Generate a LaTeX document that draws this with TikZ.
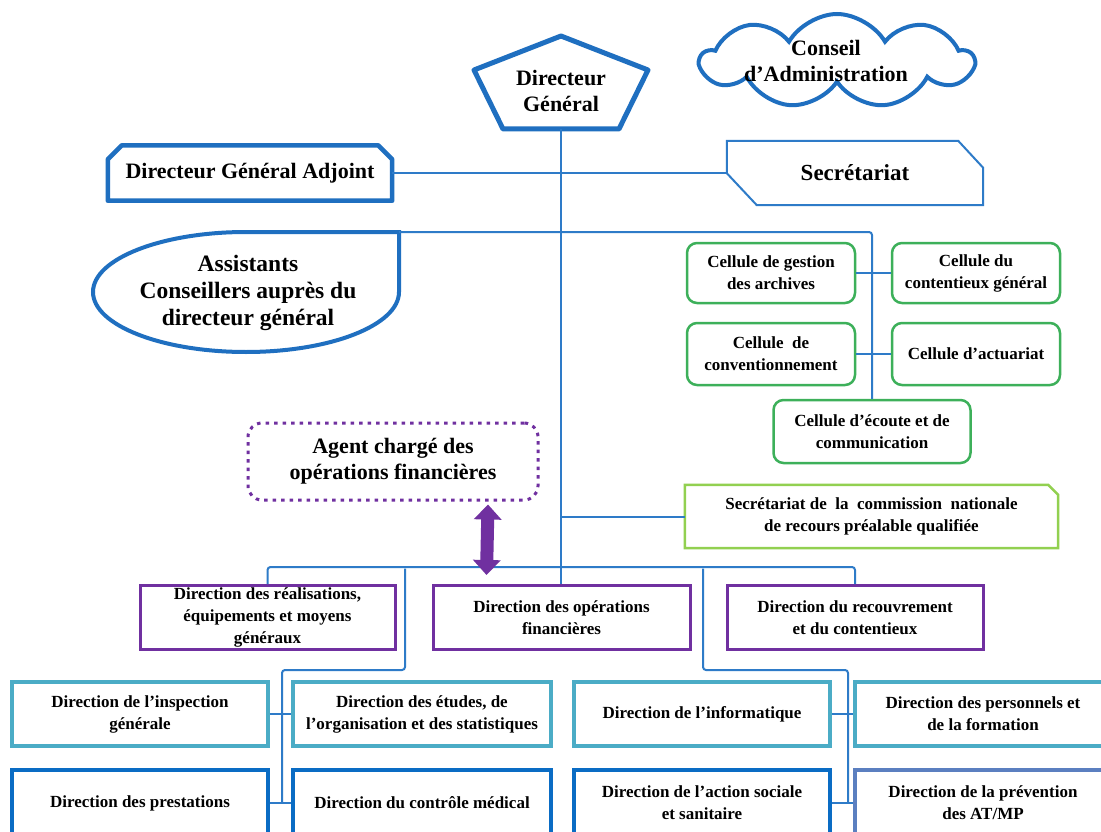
\documentclass[tikz,border=0pt]{standalone}
\usepackage{fontspec}
\setmainfont{Liberation Serif}
\usetikzlibrary{shapes.symbols,arrows.meta,calc}
\definecolor{lblue}{HTML}{2E7BC8}
\definecolor{dblue}{HTML}{1F6FC0}
\definecolor{purp}{HTML}{7030A0}
\definecolor{cgreen}{HTML}{3DB05A}
\definecolor{lgreen}{HTML}{92D050}
\definecolor{tealb}{HTML}{4BACC6}
\definecolor{rowblue}{HTML}{0A6CC4}
\definecolor{slate}{HTML}{5B7FC0}
\begin{document}
\begin{tikzpicture}[x=1pt,y=-1pt,
  conn/.style={draw=lblue,line width=2pt},
  big/.style={font=\fontsize{22}{26}\selectfont\bfseries, align=center},
  small/.style={font=\fontsize{17}{22}\selectfont\bfseries, align=center},
  dirbox/.style={small, draw, minimum width=256pt, minimum height=64pt, inner sep=0pt},
  cell/.style={small, draw=cgreen, line width=2.5pt, rounded corners=10pt, minimum width=168pt, minimum height=60pt, inner sep=0pt},
  pbox/.style={dirbox, draw=purp, line width=3pt},
  tbox/.style={dirbox, draw=tealb, line width=3.5pt},
  bbox/.style={dirbox, draw=rowblue, line width=4pt, minimum height=66pt},
]
\useasboundingbox (0,0) rectangle (1101,832);
\clip (0,0) rectangle (1101,832);
\fill[white] (0,0) rectangle (1101,832);

% Directeur General (pentagon)
\node[big, inner sep=0pt] (dg) at (561,91) {Directeur\\Général};
\draw[dblue, line width=5pt, line join=round] (561,36) -- (648,70) -- (619,129) -- (503,129) -- (474,70) -- cycle;
\coordinate (dgb) at (561,129);

% Conseil d'Administration (cloud)
\node[cloud, draw=dblue, line width=4pt, cloud puffs=9, cloud puff arc=120, aspect=3, minimum width=272pt, minimum height=94pt, inner sep=0pt] (cloud) at (837,61) {};
\node[big, inner sep=0pt] (ca) at (826,61) {Conseil\\d'Administration};

% DGA
\node[big, minimum width=284pt, minimum height=55pt, inner sep=0pt] (dga) at (250,173) {Directeur Général Adjoint};
\draw[dblue, line width=4.5pt, line join=round] ($(dga.north west)+(0,14)$) -- ($(dga.north west)+(14,0)$) -- ($(dga.north east)+(-14,0)$) -- ($(dga.north east)+(0,14)$) -- (dga.south east) -- (dga.south west) -- cycle;

% Secretariat
\node[big, font=\fontsize{23}{26}\selectfont\bfseries, minimum width=256pt, minimum height=64pt, inner sep=0pt] (sec) at (855,173) {Secrétariat};
\draw[lblue, line width=2pt] (sec.north west) -- ($(sec.north east)+(-25,0)$) -- ($(sec.north east)+(0,27)$) -- (sec.south east) -- ($(sec.south west)+(30,0)$) -- ($(sec.south west)+(0,-32)$) -- cycle;
\draw[conn] (dga.east) -- (sec.west);

% Assistants
\node[big, font=\fontsize{23.5}{27}\selectfont\bfseries, inner sep=0pt] (asst) at (248,293) {Assistants\\Conseillers auprès du\\directeur général};
\draw[dblue, line width=4pt] (399,232) -- (399,292) arc[start angle=0, end angle=-270, x radius=153pt, y radius=60pt] -- cycle;
\coordinate (asstc) at (399,232);

% Cellules
\node[cell] (gest) at (771,273) {Cellule de gestion\\des archives};
\node[cell] (cont) at (976,273) {Cellule du\\contentieux général};
\node[cell, minimum height=62pt] (conv) at (771,354) {Cellule~~de\\conventionnement};
\node[cell, minimum height=62pt] (actu) at (976,354) {Cellule d'actuariat};
\node[cell, minimum width=197pt, minimum height=63pt] (ecou) at (872,431.5) {Cellule d'écoute et de\\communication};
\draw[conn, rounded corners=3pt] (asstc) -- (872,232) -- (ecou.north);
\draw[conn] (gest.east) -- (cont.west);
\draw[conn] (conv.east) -- (actu.west);

% Agent
\node[big, draw=purp, line width=3pt, dash pattern=on 3.5pt off 5pt, rounded corners=14pt, minimum width=290pt, minimum height=77pt, inner sep=0pt] (agent) at (393,461.5) {Agent chargé des\\opérations financières};

% Commission
\node[small, minimum width=373pt, minimum height=63pt, inner sep=0pt] (comm) at (871.5,516.5) {Secrétariat de~~la~~commission~~nationale\\de recours préalable qualifiée};
\draw[lgreen, line width=2.5pt] (comm.north west) -- ($(comm.north east)+(-10,0)$) -- ($(comm.north east)+(0,10)$) -- (comm.south east) -- (comm.south west) -- cycle;

% Row 1
\node[pbox, minimum width=255pt] (real) at (267.5,617.5) {\rule{0pt}{12pt}Direction des réalisations,\\équipements et moyens\\généraux};
\node[pbox, minimum width=257pt] (ops) at (561.5,617.5) {Direction des opérations\\financières};
\node[pbox] (rec) at (855,617.5) {Direction du recouvrement\\et du contentieux};

\draw[conn] (dgb) -- (dgb |- ops.north);
\draw[conn] (dgb |- comm.west) -- (comm.west);
\draw[conn, rounded corners=3pt] (real.north) -- ++(0,-17) -| (rec.north);
\draw[purp, line width=13pt, {Triangle[width=27pt,length=15pt]}-{Triangle[width=27pt,length=15pt]}] ($(agent.south)+(95,3)$) -- ($(ops.north west)+(55,-9)$);

% Row 2
\node[tbox] (insp) at (140,714) {Direction de l'inspection\\générale};
\node[tbox, minimum width=258pt] (etud) at (422,714) {Direction des études, de\\l'organisation et des statistiques};
\node[tbox] (info) at (702,714) {Direction de l'informatique};
\node[tbox] (pers) at (983,714) {Direction des personnels et\\de la formation};

% Row 3
\node[bbox] (pres) at (140,803) {Direction des prestations};
\node[bbox, minimum width=258pt] (ctrl) at (422,803) {Direction du contrôle médical};
\node[bbox] (act) at (702,803) {Direction de l'action sociale\\et sanitaire};
\node[bbox, draw=slate] (prev) at (983,803) {Direction de la prévention\\des AT/MP};

% Branches
\coordinate (jl) at (405,568.5);
\coordinate (kl) at (282,670);
\coordinate (jr) at (703,568.5);
\coordinate (kr) at (848,670);
\draw[conn, rounded corners=3pt] (jl) |- (kl) -- (kl |- pres.east);
\draw[conn, rounded corners=3pt] (jr) |- (kr) -- (kr |- act.east);
\draw[conn] (insp.east) -- (etud.west);
\draw[conn] (info.east) -- (pers.west);
\draw[conn] (pres.east) -- (ctrl.west);
\draw[conn] (act.east) -- (prev.west);
\end{tikzpicture}
\end{document}
